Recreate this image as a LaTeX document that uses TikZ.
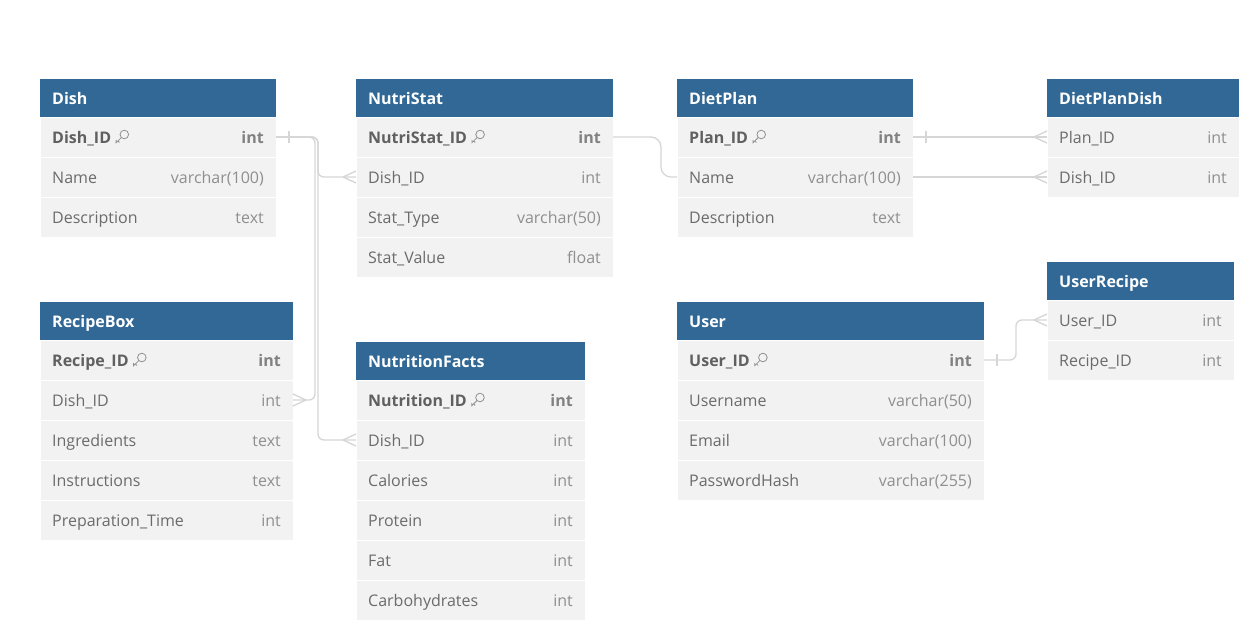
\documentclass[tikz,border=0pt]{standalone}
\usepackage{fontspec}
\setmainfont{Open Sans}
\usetikzlibrary{calc}
\definecolor{headblue}{HTML}{316895}
\definecolor{rowbg}{HTML}{F2F2F2}
\definecolor{fieldcol}{HTML}{6B6B6B}
\definecolor{typecol}{HTML}{8F8F8F}
\definecolor{conncol}{HTML}{D6D6D6}
\tikzset{
  tabhead/.style={fill=headblue, draw=none, minimum height=38pt, inner sep=0pt, outer sep=0pt},
  tabrow/.style={fill=rowbg, draw=white, line width=0.8pt, minimum height=40pt, inner sep=0pt, outer sep=0pt},
  cell/.style={inner sep=0pt, text height=13.5pt, text depth=1.5pt},
  headtext/.style={cell, text=white, font=\fontsize{16}{19}\selectfont\bfseries},
  field0/.style={cell, text=fieldcol, font=\fontsize{16}{19}\selectfont},
  field1/.style={cell, text=fieldcol!90!black, font=\fontsize{16}{19}\selectfont\bfseries},
  type0/.style={cell, text=typecol, font=\fontsize{16}{19}\selectfont},
  type1/.style={cell, text=typecol!90!black, font=\fontsize{16}{19}\selectfont\bfseries},
  conn/.style={draw=conncol, line width=1.3pt, rounded corners=6pt},
  crowfoot/.pic={\draw[conn] (-13,0) -- (0,-6) (-13,0) -- (0,6);},
  onetick/.pic={\draw[conn] (0,-6) -- (0,6);},
  pkkey/.pic={
    \draw[typecol, line width=0.8pt] (9,-2.5) circle [radius=4.3pt];
    \draw[typecol, line width=0.8pt, line cap=round] (5.9,0.6) -- (0.8,5.7) -- (0.8,3.2) (2.6,3.9) -- (4.1,5.4);
  }
}
% one table: id, x, y, width, title, rows (name/type/key)
\newcommand{\dbtable}[6]{
  \node[tabhead, minimum width=#4pt, anchor=north west] (#1) at (#2,#3) {};
  \node[headtext, anchor=west] at ($(#1.west)+(12,0)$) {#5};
  \foreach \fname/\ftype/\fkey [count=\i] in {#6} {
    \node[tabrow, minimum width=#4pt, anchor=north west] (#1-\i) at ($(#1.south west)+(0,{40*(\i-1)})$) {};
    \node[field\fkey, anchor=west] (#1-\i-n) at ($(#1-\i.west)+(12,0)$) {\fname};
    \node[type\fkey, anchor=east] at ($(#1-\i.east)+(-12,0)$) {\ftype};
    \ifnum\fkey=1 \pic at ($(#1-\i-n.east)+(4,0)$) {pkkey}; \fi
  }
}
\begin{document}
\begin{tikzpicture}[x=1pt, y=-1pt]
  \useasboundingbox[fill=white] (0,0) rectangle (1243,632);
  \dbtable{dish}{40}{79}{236}{Dish}{Dish\_ID/int/1, Name/varchar(100)/0, Description/text/0}
  \dbtable{nutristat}{356}{79}{257}{NutriStat}{NutriStat\_ID/int/1, Dish\_ID/int/0, Stat\_Type/varchar(50)/0, Stat\_Value/float/0}
  \dbtable{dietplan}{677}{79}{236}{DietPlan}{Plan\_ID/int/1, Name/varchar(100)/0, Description/text/0}
  \dbtable{dietplandish}{1047}{79}{192}{DietPlanDish}{Plan\_ID/int/0, Dish\_ID/int/0}
  \dbtable{recipebox}{40}{302}{253}{RecipeBox}{Recipe\_ID/int/1, Dish\_ID/int/0, Ingredients/text/0, Instructions/text/0, Preparation\_Time/int/0}
  \dbtable{nutritionfacts}{356}{342}{229}{NutritionFacts}{Nutrition\_ID/int/1, Dish\_ID/int/0, Calories/int/0, Protein/int/0, Fat/int/0, Carbohydrates/int/0}
  \dbtable{user}{677}{302}{307}{User}{User\_ID/int/1, Username/varchar(50)/0, Email/varchar(100)/0, PasswordHash/varchar(255)/0}
  \dbtable{userrecipe}{1047}{262}{187}{UserRecipe}{User\_ID/int/0, Recipe\_ID/int/0}

  % relations
  \draw[conn] (dish-1.east) -- ++(42,0) |- (nutristat-2.west);
  \draw[conn] (dish-1.east) -- ++(39,0) |- (recipebox-2.east);
  \draw[conn] (dish-1.east) -- ++(42,0) |- (nutritionfacts-2.west);
  \pic at ($(dish-1.east)+(13,0)$) {onetick};
  \pic at (nutristat-2.west) {crowfoot};
  \pic[xscale=-1] at (recipebox-2.east) {crowfoot};
  \pic at (nutritionfacts-2.west) {crowfoot};

  \draw[conn, rounded corners=10pt] (nutristat-1.east) -- ++(48,0) |- (dietplan-2.west);

  \draw[conn] (dietplan-1.east) -- (dietplandish-1.west);
  \draw[conn] (dietplan-2.east) -- (dietplandish-2.west);
  \pic at ($(dietplan-1.east)+(13,0)$) {onetick};
  \pic at (dietplandish-1.west) {crowfoot};
  \pic at (dietplandish-2.west) {crowfoot};

  \draw[conn] (user-1.east) -- ++(32,0) |- (userrecipe-1.west);
  \pic at ($(user-1.east)+(13,0)$) {onetick};
  \pic at (userrecipe-1.west) {crowfoot};
\end{tikzpicture}
\end{document}
